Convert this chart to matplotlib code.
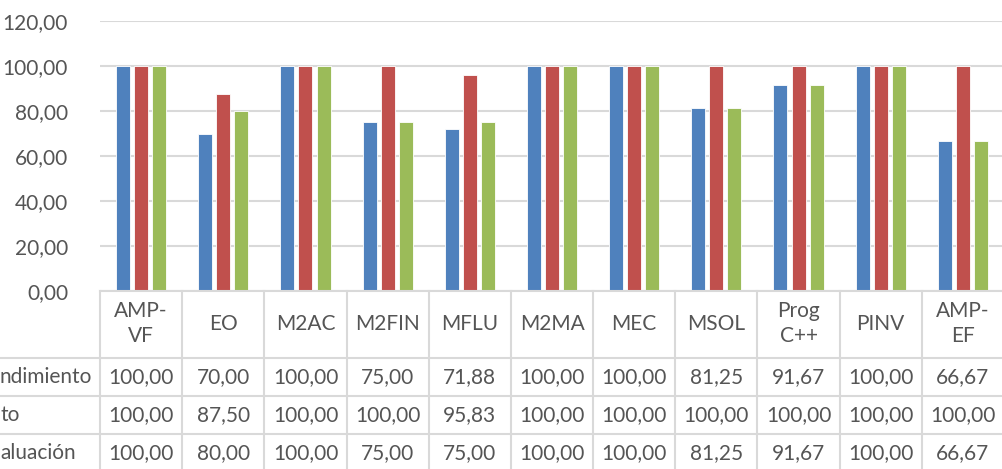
import matplotlib
matplotlib.use("Agg")
import matplotlib.pyplot as plt
from matplotlib.transforms import blended_transform_factory
from matplotlib.lines import Line2D

categories = ["AMP-\nVF", "EO", "M2AC", "M2FIN", "MFLU", "M2MA", "MEC", "MSOL", "Prog\nC++", "PINV", "AMP-\nEF"]
# row labels as visible in the reference (left part cut off by the image edge)
row_labels = ["ndimiento", "to", "aluación"]
rendimiento = [100.00, 70.00, 100.00, 75.00, 71.88, 100.00, 100.00, 81.25, 91.67, 100.00, 66.67]
exito = [100.00, 87.50, 100.00, 100.00, 95.83, 100.00, 100.00, 100.00, 100.00, 100.00, 100.00]
evaluacion = [100.00, 80.00, 100.00, 75.00, 75.00, 100.00, 100.00, 81.25, 91.67, 100.00, 66.67]
series = [rendimiento, exito, evaluacion]
colors = ["#4F81BD", "#C0504D", "#9BBB59"]
yticks = [0, 20, 40, 60, 80, 100, 120]

W, H = 1002, 469
fig = plt.figure(figsize=(W / 100, H / 100), dpi=100)
plt.rcParams['font.family'] = ['Lato', 'DejaVu Sans']
txtc = "#555555"
gridc = "#d9d9d9"
fs = 15

def fy(py):
    return 1 - py / H

ax_left, ax_right = 100, 1004
ax_top, ax_bot = 21, 291
ax = fig.add_axes([ax_left / W, fy(ax_bot), (ax_right - ax_left) / W, (ax_bot - ax_top) / H])
n = len(categories)
bw = 0.17
step = 0.22
for k, (vals, c) in enumerate(zip(series, colors)):
    xs = [i + (k - 1) * step for i in range(n)]
    ax.bar(xs, vals, width=bw, color=c, edgecolor="white", linewidth=0.6, zorder=3)
ax.set_xlim(-0.5, n - 0.5)
ax.set_ylim(0, 120)
ax.set_yticks(yticks)
ax.set_yticklabels([f"{v:.2f}".replace(".", ",") for v in yticks], fontsize=fs, color=txtc)
ax.tick_params(axis="y", length=0, pad=23)
ax.set_xticks([])
ax.grid(axis="y", color=gridc, linewidth=1.5, zorder=0)
for s in ax.spines.values():
    s.set_visible(False)

# data table
tr = blended_transform_factory(ax.transData, fig.transFigure)
rows_y = [291, 358, 396, 434, 472]
lw = 1.5
fig.add_artist(Line2D([ax_left / W, 1.01], [fy(291)] * 2, transform=fig.transFigure, color=gridc, lw=lw))
for yy in rows_y[1:]:
    fig.add_artist(Line2D([-0.01, 1.01], [fy(yy)] * 2, transform=fig.transFigure, color=gridc, lw=lw))
for i in range(n + 1):
    fig.add_artist(Line2D([i - 0.5, i - 0.5], [fy(291), fy(480)], transform=tr, color=gridc, lw=lw))

hdr_c = fy((291 + 358) / 2 - 1)
for i, cat in enumerate(categories):
    fig.text(i, hdr_c, cat, transform=tr, ha="center", va="center", fontsize=fs, color=txtc, linespacing=1.3)

row_centers = [377, 415, 453]
for r, vals in enumerate(series):
    yc = fy(row_centers[r])
    for i, v in enumerate(vals):
        fig.text(i, yc, f"{v:.2f}".replace(".", ","), transform=tr, ha="center", va="center", fontsize=fs, color=txtc)

label_right = [92, 20, 76]
for r, name in enumerate(row_labels):
    fig.text(label_right[r] / W, fy(row_centers[r]), name, ha="right", va="center", fontsize=fs, color=txtc)

fig.savefig("out.png", dpi=100)
